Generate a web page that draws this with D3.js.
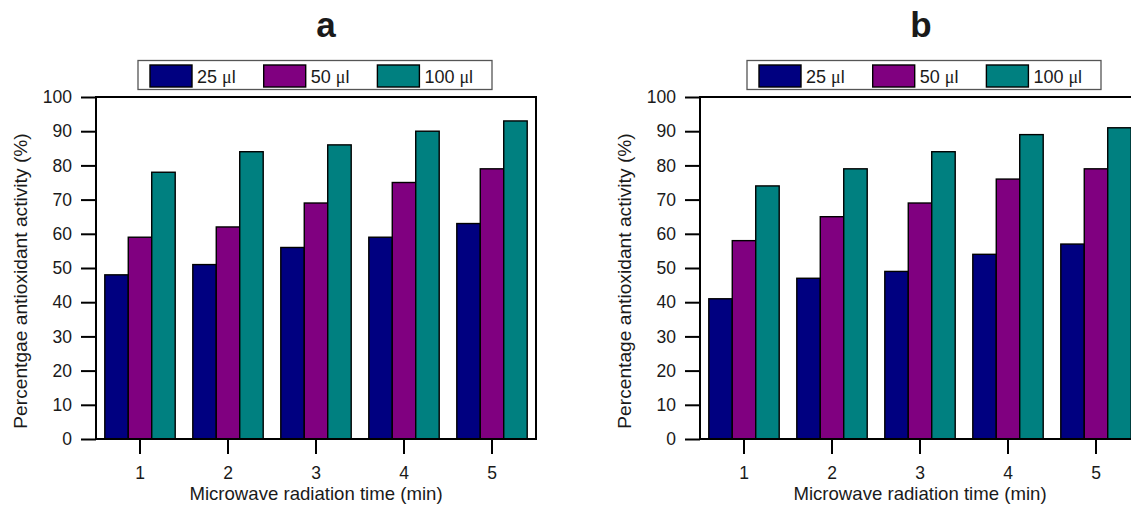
<!DOCTYPE html>
<html>
<head>
<meta charset="utf-8">
<script src="https://cdn.jsdelivr.net/npm/d3@7"></script>
<style>
html,body{margin:0;padding:0;background:#fff;}
svg{display:block;}
text{font-family:"Liberation Sans", Arial, sans-serif;fill:#1a1a1a;}
</style>
</head>
<body>
<svg id="chart" width="1131" height="506"></svg>
<script>
// ---- data ----
const categories = ["1", "2", "3", "4", "5"];
const seriesNames = ["25 μl", "50 μl", "100 μl"];
const seriesColors = ["#000080", "#800080", "#008080"];
const yTicks = [0, 10, 20, 30, 40, 50, 60, 70, 80, 90, 100];

const panelTitles = ["a", "b"];
const yLabels = ["Percentgae antioxidant activity (%)", "Percentage antioxidant activity (%)"];
const xLabel = "Microwave radiation time (min)";

const a25 = [48, 51, 56, 59, 63];
const a50 = [59, 62, 69, 75, 79];
const a100 = [78, 84, 86, 90, 93];

const b25 = [41, 47, 49, 54, 57];
const b50 = [58, 65, 69, 76, 79];
const b100 = [74, 79, 84, 89, 91];

const panelData = [[a25, a50, a100], [b25, b50, b100]];

// ---- layout ----
const panels = [
  {x0: 96, x1: 536, titleX: 326, legendX: 138},
  {x0: 700, x1: 1140, titleX: 921, legendX: 747}
];
const yTop = 97, yBot = 439;

const svg = d3.select("#chart");

panels.forEach((p, pi) => {
  const g = svg.append("g");
  const x = d3.scaleBand().domain(categories).range([p.x0, p.x1]).paddingInner(0).paddingOuter(0);
  const xs = d3.scaleBand().domain(d3.range(seriesNames.length)).range([0, x.bandwidth() * 0.8]);
  const y = d3.scaleLinear().domain([0, 100]).range([yBot, yTop]);

  // bars
  panelData[pi].forEach((vals, si) => {
    g.selectAll(null).data(vals).enter().append("rect")
      .attr("x", (d, i) => x(categories[i]) + x.bandwidth() * 0.1 + xs(si))
      .attr("y", d => y(d))
      .attr("width", xs.bandwidth())
      .attr("height", d => y(0) - y(d))
      .attr("fill", seriesColors[si])
      .attr("stroke", "#000")
      .attr("stroke-width", 1.4);
  });

  // frame
  g.append("rect")
    .attr("x", p.x0).attr("y", yTop)
    .attr("width", p.x1 - p.x0).attr("height", yBot - yTop)
    .attr("fill", "none").attr("stroke", "#000").attr("stroke-width", 2);

  // y axis
  const ya = g.append("g").attr("transform", `translate(${p.x0},0)`)
    .call(d3.axisLeft(y).tickValues(yTicks).tickSize(15).tickPadding(9));
  ya.select(".domain").remove();
  ya.selectAll(".tick line").attr("stroke", "#000").attr("stroke-width", 2);
  ya.selectAll(".tick text").attr("font-size", 17.5).attr("font-family", "Liberation Sans, Arial, sans-serif").attr("fill", "#1a1a1a");

  // x axis
  const xa = g.append("g").attr("transform", `translate(0,${yBot})`)
    .call(d3.axisBottom(x).tickSize(15).tickPadding(13));
  xa.select(".domain").remove();
  xa.selectAll(".tick line").attr("stroke", "#000").attr("stroke-width", 2);
  xa.selectAll(".tick text").attr("font-size", 17.5).attr("font-family", "Liberation Sans, Arial, sans-serif").attr("fill", "#1a1a1a");

  // axis labels
  g.append("text")
    .attr("x", (p.x0 + p.x1) / 2)
    .attr("y", 500)
    .attr("text-anchor", "middle")
    .attr("font-size", 18.6)
    .text(xLabel);

  g.append("text")
    .attr("transform", `translate(${p.x0 - 69},281) rotate(-90)`)
    .attr("text-anchor", "middle")
    .attr("font-size", 19.2)
    .text(yLabels[pi]);

  // title
  g.append("text")
    .attr("x", p.titleX).attr("y", 37)
    .attr("text-anchor", "middle")
    .attr("font-size", 35).attr("font-weight", "bold")
    .attr("fill", "#000")
    .text(panelTitles[pi]);

  // legend
  const lg = g.append("g").attr("transform", `translate(${p.legendX},60.5)`);
  lg.append("rect").attr("x", 0).attr("y", 0).attr("width", 354).attr("height", 29)
    .attr("fill", "#fff").attr("stroke", "#555").attr("stroke-width", 1.3);
  seriesNames.forEach((name, si) => {
    const ox = 12 + si * 113.7;
    lg.append("rect").attr("x", ox).attr("y", 4.5).attr("width", 42).attr("height", 22)
      .attr("fill", seriesColors[si]).attr("stroke", "#000").attr("stroke-width", 1.4);
    const parts = name.split(" ");
    const t = lg.append("text").attr("x", ox + 47).attr("y", 22.5).attr("font-size", 18);
    t.append("tspan").text(parts[0] + " ");
    t.append("tspan").attr("font-family", "Liberation Serif, Times New Roman, serif").text(parts[1].charAt(0));
    t.append("tspan").text(parts[1].slice(1));
  });
});
</script>
</body>
</html>
